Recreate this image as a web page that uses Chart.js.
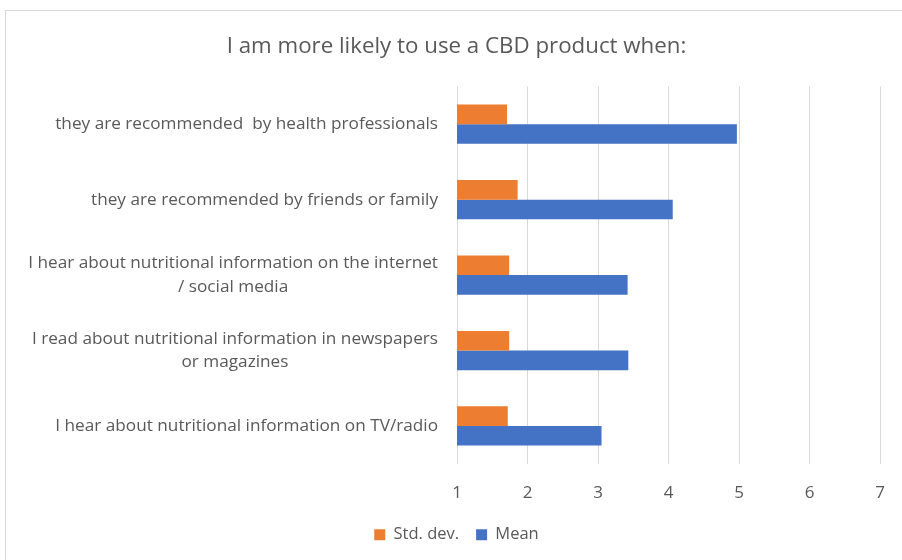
<!DOCTYPE html>
<html>
<head>
<meta charset="utf-8">
<script src="https://cdn.jsdelivr.net/npm/chart.js@4"></script>
<style>
  html, body { margin: 0; padding: 0; background: #ffffff; }
  #wrap { position: relative; width: 902px; height: 560px; }
</style>
</head>
<body>
<div id="wrap"><canvas id="c"></canvas></div>
<script>
// Survey statements (multi-line labels are given as arrays of lines)
const categories = [
  ["they are recommended  by health professionals"],
  ["they are recommended by friends or family"],
  ["I hear about nutritional information on the internet", "/ social media"],
  ["I read about nutritional information in newspapers", "or magazines"],
  ["I hear about nutritional information on TV/radio"]
];
const stdDev = [1.71, 1.86, 1.74, 1.74, 1.72];
const mean = [4.97, 4.06, 3.42, 3.43, 3.05];
const xTicks = [1, 2, 3, 4, 5, 6, 7];

const FONT = "'Open Sans', 'Liberation Sans', sans-serif";
const TEXT = '#595959';
const GRID = '#d9d9d9';

// Outer frame of the chart
const framePlugin = {
  id: 'frame',
  beforeDraw(chart) {
    const ctx = chart.ctx;
    ctx.save();
    ctx.fillStyle = '#ffffff';
    ctx.fillRect(0, 0, chart.width, chart.height);
    ctx.strokeStyle = GRID;
    ctx.lineWidth = 1;
    ctx.strokeRect(5.5, 10.5, chart.width + 20, chart.height + 20);
    ctx.restore();
  }
};

// Category labels: block right-aligned to the axis, lines centred within the block
const catLabelPlugin = {
  id: 'catLabels',
  afterDraw(chart) {
    const scale = chart.scales.y;
    const ctx = chart.ctx;
    ctx.save();
    ctx.font = '17.2px ' + FONT;
    ctx.fillStyle = TEXT;
    ctx.textAlign = 'center';
    ctx.textBaseline = 'middle';
    const right = scale.right - 19;
    const lh = 23.5;
    categories.forEach((lines, i) => {
      const cy = scale.getPixelForValue(i);
      const w = Math.max(...lines.map(l => ctx.measureText(l).width));
      const cx = right - w / 2;
      const y0 = cy - (lines.length - 1) * lh / 2;
      lines.forEach((line, k) => ctx.fillText(line, cx, y0 + k * lh));
    });
    ctx.restore();
  }
};

new Chart(document.getElementById('c'), {
  type: 'bar',
  data: {
    labels: categories,
    datasets: [
      { label: 'Std. dev.', data: stdDev, backgroundColor: '#ED7D31' },
      { label: 'Mean', data: mean, backgroundColor: '#4472C4' }
    ]
  },
  options: {
    indexAxis: 'y',
    responsive: true,
    maintainAspectRatio: false,
    animation: false,
    datasets: { bar: { categoryPercentage: 0.52, barPercentage: 1.0 } },
    layout: { padding: { left: 33, right: 22, top: 0, bottom: 7 } },
    plugins: {
      title: {
        display: true,
        text: 'I am more likely to use a CBD product when:',
        color: TEXT,
        font: { family: FONT, size: 22.3, weight: 'normal' },
        padding: { top: 33.5, bottom: 26.2 }
      },
      legend: {
        position: 'bottom',
        labels: {
          color: TEXT,
          font: { family: FONT, size: 16.5 },
          boxWidth: 11,
          boxHeight: 11,
          padding: 17
        }
      },
      tooltip: { enabled: false }
    },
    scales: {
      x: {
        min: 1,
        max: 7,
        afterBuildTicks: s => { s.ticks = xTicks.map(v => ({ value: v })); },
        grid: { color: GRID, drawTicks: true, tickLength: 4, tickColor: 'rgba(0,0,0,0)' },
        border: { display: false },
        ticks: { color: TEXT, font: { family: FONT, size: 17 }, padding: 15 },
        afterFit: s => { s.height -= 8.6; }
      },
      y: {
        grid: { display: false, drawTicks: false },
        border: { display: false },
        ticks: { display: false },
        afterFit: s => { s.width = 424; }
      }
    }
  },
  plugins: [framePlugin, catLabelPlugin]
});
</script>
</body>
</html>
